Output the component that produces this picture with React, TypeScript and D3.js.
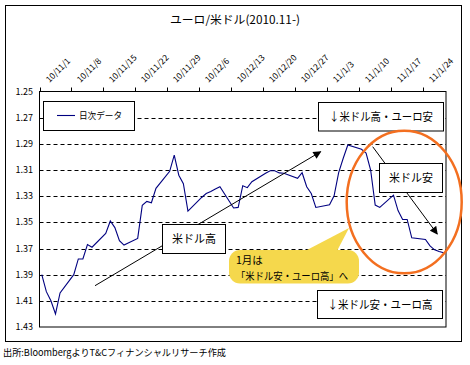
import React from "react"
import * as d3 from "d3"

const width = 470
const height = 365

const dates = [
  "2010-11-01", "2010-11-02", "2010-11-03", "2010-11-04", "2010-11-05",
  "2010-11-08", "2010-11-09", "2010-11-10", "2010-11-11", "2010-11-12",
  "2010-11-15", "2010-11-16", "2010-11-17", "2010-11-18", "2010-11-19",
  "2010-11-22", "2010-11-23", "2010-11-24", "2010-11-25", "2010-11-26",
  "2010-11-29", "2010-11-30", "2010-12-01", "2010-12-02", "2010-12-03",
  "2010-12-06", "2010-12-07", "2010-12-08", "2010-12-09", "2010-12-10",
  "2010-12-13", "2010-12-14", "2010-12-15", "2010-12-16", "2010-12-17",
  "2010-12-20", "2010-12-21", "2010-12-22", "2010-12-23", "2010-12-24",
  "2010-12-27", "2010-12-28", "2010-12-29", "2010-12-30", "2010-12-31",
  "2011-01-03", "2011-01-04", "2011-01-05", "2011-01-06", "2011-01-07",
  "2011-01-10", "2011-01-11", "2011-01-12", "2011-01-13", "2011-01-14",
  "2011-01-17", "2011-01-18", "2011-01-19", "2011-01-20", "2011-01-21",
  "2011-01-24", "2011-01-25", "2011-01-26", "2011-01-27", "2011-01-28",
]

const rates = [
  1.390, 1.403, 1.410, 1.420, 1.404,
  1.390, 1.378, 1.378, 1.367, 1.369,
  1.3585, 1.349, 1.354, 1.364, 1.3674,
  1.3623, 1.337, 1.334, 1.335, 1.324,
  1.311, 1.2986, 1.314, 1.3205, 1.3414,
  1.331, 1.328, 1.3264, 1.3245, 1.3228,
  1.339, 1.3386, 1.322, 1.3235, 1.319,
  1.3125, 1.3106, 1.3106, 1.3122, 1.3125,
  1.3164, 1.3121, 1.3228, 1.328, 1.3386,
  1.3365, 1.3297, 1.312, 1.301, 1.2909,
  1.2942, 1.297, 1.31, 1.3368, 1.3386,
  1.3292, 1.341, 1.3478, 1.3478, 1.3618,
  1.3631, 1.368, 1.371, 1.3723, 1.3733,
]

const weekLabels = [
  "10/11/1", "10/11/8", "10/11/15", "10/11/22", "10/11/29", "10/12/6", "10/12/13",
  "10/12/20", "10/12/27", "11/1/3", "11/1/10", "11/1/17", "11/1/24",
]

const yTicks = [1.25, 1.27, 1.29, 1.31, 1.33, 1.35, 1.37, 1.39, 1.41, 1.43]

const plot = { left: 39.5, top: 91.5, right: 446, bottom: 327 }
const font = "'Noto Sans CJK JP', 'Noto Sans', sans-serif"

function Box({ x, y, w, h, label, size = 11.5, textW = 0 }) {
  const fit = textW ? { textLength: textW, lengthAdjust: "spacingAndGlyphs" } : {}
  return (
    <g>
      <rect x={x} y={y} width={w} height={h} fill="white" stroke="black" />
      <text x={x + w / 2} y={y + h / 2} dy="0.36em" textAnchor="middle" fontSize={size} {...fit}>{label}</text>
    </g>
  )
}

function App() {
  const parse = d3.utcParse("%Y-%m-%d")
  const start = parse("2010-11-01")
  const end = parse("2011-01-29")

  const x = d3.scaleUtc().domain([start, end]).range([plot.left, plot.right])
  const y = d3.scaleLinear().domain([1.25, 1.43]).range([plot.top, plot.bottom])

  const points = dates.map((d, i) => ({ date: d3.utcHour.offset(parse(d), 12), rate: rates[i] }))
  const line = d3.line().x(d => x(d.date)).y(d => y(d.rate))

  const weeks = d3.utcDay.range(start, parse("2011-01-25"), 7)

  return (
    <svg width={width} height={height} style={{ position: "absolute", left: 0, top: 0 }} fontFamily={font}>
      <defs>
        <marker id="head" viewBox="0 0 10 10" refX="9" refY="5" markerWidth="9" markerHeight="8" orient="auto" markerUnits="userSpaceOnUse">
          <path d="M0,0 L10,5 L0,10 Z" fill="black" />
        </marker>
      </defs>
      <rect x={5.5} y={5.5} width={456} height={336} fill="white" stroke="black" />

      <text x={235} y={24} textAnchor="middle" fontSize={11.5} textLength={130} lengthAdjust="spacingAndGlyphs">ユーロ/米ドル(2010.11-)</text>

      {yTicks.slice(1, -1).map(v => (
        <line key={v} x1={plot.left} x2={plot.right} y1={Math.round(y(v)) + 0.5} y2={Math.round(y(v)) + 0.5}
          stroke="black" strokeDasharray="4,3" />
      ))}
      {yTicks.map(v => (
        <text key={v} x={33} y={y(v)} dy="0.35em" textAnchor="end" fontSize={9}>{v.toFixed(2)}</text>
      ))}

      {weeks.map((w, i) => (
        <g key={i} transform={`translate(${Math.round(x(w)) + 0.5}, 0)`}>
          <line y1={plot.top - 4} y2={plot.top} stroke="black" />
          <text transform={`translate(9, 83) rotate(-45)`} fontSize={8.5}>{weekLabels[i]}</text>
        </g>
      ))}

      <rect x={plot.left} y={plot.top} width={plot.right - plot.left} height={plot.bottom - plot.top}
        fill="none" stroke="black" />

      <path d={line(points)} fill="none" stroke="#000080" strokeWidth={1.1} />

      <g>
        <rect x={43.5} y={101.5} width={91} height={29} fill="white" stroke="black" />
        <line x1={57} x2={75} y1={115.5} y2={115.5} stroke="#000080" strokeWidth={1.1} />
        <text x={79} y={115.5} dy="0.35em" fontSize={9.5} textLength={43} lengthAdjust="spacingAndGlyphs">日次データ</text>
      </g>

      <line x1={95} y1={285.7} x2={320.7} y2={151.7} stroke="black" markerEnd="url(#head)" />
      <line x1={372.7} y1={146.7} x2={437.3} y2={234} stroke="black" markerEnd="url(#head)" />

      <Box x={162.5} y={224.5} w={63} h={29} label="米ドル高" textW={44} />
      <Box x={379.5} y={163.5} w={63} h={29} label="米ドル安" textW={44} />
      <Box x={318.5} y={102.5} w={125} h={28.5} label="↓米ドル高・ユーロ安" textW={104} />
      <Box x={317.5} y={290.5} w={125} h={28} label="↓米ドル安・ユーロ高" textW={105} />

      <g>
        <path d="M305,251 L349,228 L337,251 Z" fill="#F5D84C" />
        <rect x={229} y={250} width={130} height={33.5} rx={11} fill="#F5D84C" />
        <text x={236} y={264} fontSize={10.5}>1月は</text>
        <text x={236} y={279.5} fontSize={10.5} textLength={112} lengthAdjust="spacingAndGlyphs">「米ドル安・ユーロ高」へ</text>
      </g>

      <ellipse cx={404.2} cy={202} rx={57.5} ry={71.3} fill="none" stroke="#F36F20" strokeWidth={2.5} />

      <text x={3} y={356} fontSize={9.5} textLength={223} lengthAdjust="spacingAndGlyphs">出所:BloombergよりT&Cフィナンシャルリサーチ作成</text>
    </svg>
  )
}

export default App
